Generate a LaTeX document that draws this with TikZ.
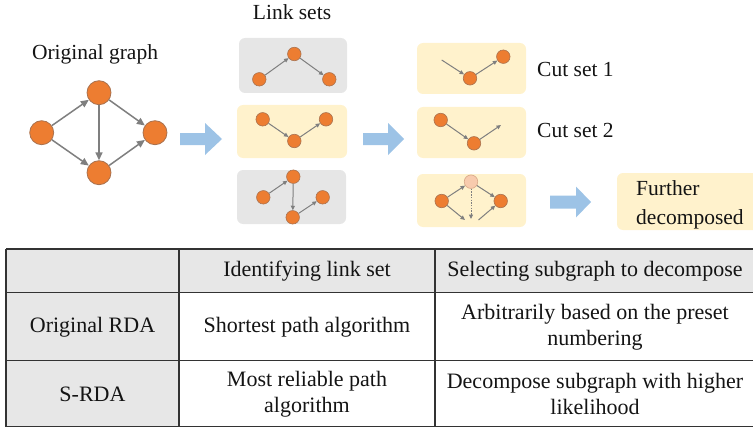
\documentclass[tikz,border=0pt]{standalone}
\usepackage{fontspec}
\setmainfont{Liberation Serif}
\usetikzlibrary{arrows.meta}
\definecolor{nodeorange}{HTML}{ED7D31}
\definecolor{nodeborder}{HTML}{A9724F}
\definecolor{paleorange}{HTML}{F8CBAD}
\definecolor{paleborder}{HTML}{D8A888}
\definecolor{edgegray}{HTML}{7F7F7F}
\definecolor{boxgray}{HTML}{E6E6E6}
\definecolor{boxyellow}{HTML}{FFF2CC}
\definecolor{arrowblue}{HTML}{9DC3E6}
\definecolor{tablegray}{HTML}{E7E7E7}
\definecolor{tableline}{HTML}{333333}
\definecolor{textdark}{HTML}{141414}
\tikzset{
  vtx/.style={circle, fill=nodeorange, draw=nodeborder, line width=0.8pt, minimum size=24pt, inner sep=0pt},
  svtx/.style={circle, fill=nodeorange, draw=nodeborder, line width=0.6pt, minimum size=13.5pt, inner sep=0pt},
  pvtx/.style={circle, fill=paleorange, draw=paleborder, line width=0.6pt, minimum size=13.5pt, inner sep=0pt},
  bedge/.style={draw=edgegray, line width=1.5pt, -{Triangle[length=8pt,width=7pt]}},
  sedge/.style={draw=edgegray, line width=1pt, -{Triangle[length=4.5pt,width=4pt]}},
  graybox/.style={fill=boxgray, rounded corners=6pt},
  yellowbox/.style={fill=boxyellow, rounded corners=6pt},
  toplabel/.style={font=\fontsize{21.5}{28.5}\selectfont, text=textdark, inner sep=0pt},
  celltext/.style={font=\fontsize{22}{25.5}\selectfont, text=textdark, align=center, inner sep=0pt},
  tline/.style={draw=tableline, line width=1.4pt},
  blockarrow/.style={fill=arrowblue},
}
\begin{document}
\begin{tikzpicture}[x=1pt,y=-1pt]
\useasboundingbox (0,0) rectangle (753,428);
\begin{scope}
\clip (0,0) rectangle (753,428);

% ---------- Original graph ----------
\node[toplabel, anchor=base] (lblorig) at (95,60) {Original graph};
\node[vtx] (gL) at (41.7,132.7) {};
\node[vtx] (gT) at (99,92.7) {};
\node[vtx] (gB) at (99,172.7) {};
\node[vtx] (gR) at (155,132.7) {};
\draw[bedge] (gL) -- (gT);
\draw[bedge] (gL) -- (gB);
\draw[bedge] (gT) -- (gB);
\draw[bedge] (gT) -- (gR);
\draw[bedge] (gB) -- (gR);

% ---------- Block arrows ----------
\fill[blockarrow] (180,133) -- (205,133) -- (205,123) -- (222,139) -- (205,155) -- (205,145) -- (180,145) -- cycle;
\fill[blockarrow] (363,133) -- (388,133) -- (388,123) -- (404,139) -- (388,155) -- (388,145) -- (363,145) -- cycle;
\fill[blockarrow] (550,195.5) -- (576,195.5) -- (576,186.5) -- (591,202) -- (576,217.5) -- (576,208.5) -- (550,208.5) -- cycle;

% ---------- Link sets ----------
\node[toplabel, anchor=base] (lbllink) at (292,20) {Link sets};
\fill[graybox] (239,38) rectangle (347,93);
\fill[yellowbox] (237,105) rectangle (347,158);
\fill[graybox] (237,170) rectangle (346,224);

\node[svtx] (a1) at (259.3,79.3) {};
\node[svtx] (a2) at (294.3,54) {};
\node[svtx] (a3) at (329.3,79.3) {};
\draw[sedge] (a1) -- (a2);
\draw[sedge] (a2) -- (a3);

\node[svtx] (b1) at (262.7,119.3) {};
\node[svtx] (b2) at (294.3,141) {};
\node[svtx] (b3) at (326,119.3) {};
\draw[sedge] (b1) -- (b2);
\draw[sedge] (b2) -- (b3);

\node[svtx] (d1) at (263.3,197.3) {};
\node[svtx] (d2) at (293.3,176.7) {};
\node[svtx] (d3) at (292.7,217.3) {};
\node[svtx] (d4) at (322.7,197.3) {};
\draw[sedge] (d1) -- (d2);
\draw[sedge] (d2) -- (d3);
\draw[sedge] (d3) -- (d4);

% ---------- Cut sets ----------
\fill[yellowbox] (417,43) rectangle (526,94);
\fill[yellowbox] (417,107) rectangle (526,158);
\fill[yellowbox] (417,174) rectangle (526,227);

\coordinate (c1s) at (441.7,60);
\node[svtx] (c1B) at (470,78.3) {};
\node[svtx] (c1R) at (503.3,56.7) {};
\draw[sedge] (c1s) -- (c1B);
\draw[sedge] (c1B) -- (c1R);

\node[svtx] (c2L) at (440.7,120) {};
\node[svtx] (c2B) at (474,143.3) {};
\coordinate (c2e) at (501,125);
\draw[sedge] (c2L) -- (c2B);
\draw[sedge] (c2B) -- (c2e);

\node[svtx] (c3L) at (441.7,201) {};
\node[pvtx] (c3T) at (471,181.7) {};
\node[svtx] (c3R) at (500.7,201) {};
\coordinate (c3d) at (471,219);
\coordinate (c3a) at (465,220);
\coordinate (c3b) at (478.5,220);
\draw[sedge] (c3L) -- (c3T);
\draw[sedge] (c3T) -- (c3R);
\draw[sedge, dashed, dash pattern=on 1.5pt off 1.2pt] (c3T) -- (c3d);
\draw[sedge] (c3L) -- (c3a);
\draw[sedge] (c3b) -- (c3R);

\node[toplabel, anchor=base west] (lblcut1) at (537,77) {Cut set 1};
\node[toplabel, anchor=base west] (lblcut2) at (537,138) {Cut set 2};

% ---------- Further decomposed ----------
\fill[yellowbox] (617,173) rectangle (770,230);
\node[toplabel, anchor=base west, align=left] (lblfurther) at (636,224) {Further\\decomposed};

% ---------- Table ----------
\fill[tablegray] (6,249) rectangle (753,292.7);
\fill[tablegray] (6,292.7) rectangle (179,426.7);
\draw[tline] (6,249) -- (753,249);
\draw[tline] (6,292.7) -- (753,292.7);
\draw[tline] (6,360.7) -- (753,360.7);
\draw[tline] (6,426.7) -- (753,426.7);
\draw[tline] (6,249) -- (6,426.7);
\draw[tline] (179,249) -- (179,426.7);
\draw[tline] (435,249) -- (435,426.7);

\node[celltext] (h2) at (307,271) {Identifying link set};
\node[celltext] (h3) at (595,271) {Selecting subgraph to decompose};
\node[celltext] (r1c1) at (92.5,327) {Original RDA};
\node[celltext] (r1c2) at (307,327) {Shortest path algorithm};
\node[celltext] (r1c3) at (595,327) {Arbitrarily based on the preset\\numbering};
\node[celltext] (r2c1) at (92.5,394) {S-RDA};
\node[celltext] (r2c2) at (307,394) {Most reliable path\\algorithm};
\node[celltext] (r2c3) at (595,394) {Decompose subgraph with higher\\likelihood};
\end{scope}
\end{tikzpicture}
\end{document}
